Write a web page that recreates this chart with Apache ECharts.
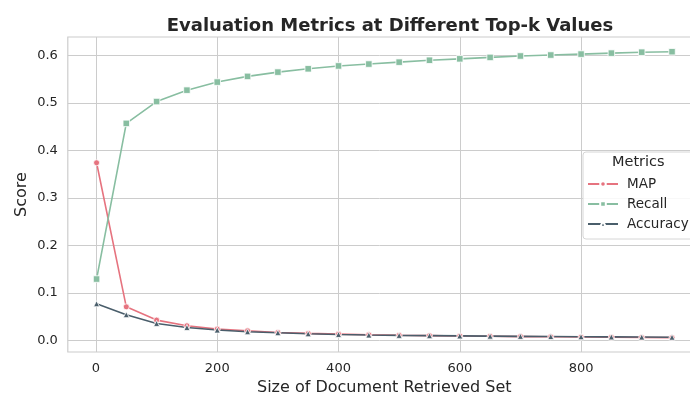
<!DOCTYPE html>
<html>
<head>
<meta charset="utf-8">
<script src="https://cdn.jsdelivr.net/npm/echarts@6/dist/echarts.min.js"></script>
<style>
  html, body { margin: 0; padding: 0; background: #fff; }
  #chart { width: 690px; height: 396px; }
</style>
</head>
<body>
<div id="chart"></div>
<script>
// top-k sizes
const topK = [1, 50, 100, 150, 200, 250, 300, 350, 400, 450, 500, 550, 600, 650, 700, 750, 800, 850, 900, 950]

// metric values
const mapValues = [0.374, 0.0705, 0.0425, 0.0305, 0.0235, 0.020, 0.0165, 0.0145, 0.013, 0.0115,
  0.0105, 0.0098, 0.0090, 0.0085, 0.0078, 0.0073, 0.0068, 0.0063, 0.0058, 0.0055]
const recallValues = [0.129, 0.457, 0.503, 0.527, 0.544, 0.556, 0.565, 0.572, 0.578, 0.582,
  0.586, 0.590, 0.593, 0.596, 0.599, 0.601, 0.603, 0.605, 0.607, 0.608]
const accuracyValues = [0.077, 0.054, 0.0355, 0.027, 0.0215, 0.018, 0.016, 0.0137, 0.0123, 0.011,
  0.0103, 0.0097, 0.0092, 0.0087, 0.0083, 0.0079, 0.0075, 0.0071, 0.0068, 0.0065]

const xTicks = [0, 200, 400, 600, 800]
const yTicks = [0, 0.1, 0.2, 0.3, 0.4, 0.5, 0.6]

const chart = echarts.init(document.getElementById('chart'))

const pairs = (vals) => topK.map((k, i) => [k, vals[i]])

const makeSeries = (name, vals, color, symbol, size) => ({
  name: name,
  type: 'line',
  data: pairs(vals),
  symbol: symbol,
  symbolSize: size,
  showAllSymbol: true,
  lineStyle: { width: 1.6, color: color },
  itemStyle: { color: color, borderColor: '#fff', borderWidth: 0.8 },
  emphasis: { disabled: true },
  animation: false
})

const font = 'DejaVu Sans'

chart.setOption({
  animation: false,
  title: {
    text: 'Evaluation Metrics at Different Top-k Values',
    left: 385,
    top: 12,
    textAlign: 'center',
    textStyle: { fontFamily: font, fontSize: 18, fontWeight: 'bold', color: '#262626' }
  },
  grid: {
    left: 67.8,
    top: 37,
    width: 633,
    height: 315,
    outerBoundsMode: 'none',
    containLabel: false,
    show: true,
    borderColor: '#cccccc',
    borderWidth: 1.2
  },
  xAxis: {
    type: 'value',
    min: -46.45,
    max: 997.45,
    name: 'Size of Document Retrieved Set',
    nameLocation: 'middle',
    nameGap: 27,
    nameTextStyle: { fontFamily: font, fontSize: 16, color: '#262626' },
    axisLine: { show: false },
    axisTick: { show: false, customValues: xTicks },
    axisLabel: { customValues: xTicks, fontFamily: font, fontSize: 13, color: '#262626', margin: 10 },
    splitLine: { show: true, lineStyle: { color: '#cccccc', width: 1 } }
  },
  yAxis: {
    type: 'value',
    min: -0.0247,
    max: 0.639,
    name: 'Score',
    nameLocation: 'middle',
    nameGap: 38,
    nameMoveOverlap: false,
    nameTextStyle: { fontFamily: font, fontSize: 16, color: '#262626' },
    axisLine: { show: false },
    axisTick: { show: false, customValues: yTicks },
    axisLabel: {
      customValues: yTicks,
      fontFamily: font, fontSize: 13, color: '#262626', margin: 10,
      formatter: (v) => v.toFixed(1)
    },
    splitLine: { show: true, lineStyle: { color: '#cccccc', width: 1 } }
  },
  legend: {
    orient: 'vertical',
    left: 583,
    top: 152,
    padding: [25, 12, 8, 4],
    itemWidth: 30,
    itemHeight: 7,
    itemGap: 6,
    backgroundColor: 'rgba(255,255,255,0.85)',
    borderColor: '#d6d6d6',
    borderWidth: 1,
    borderRadius: 3,
    textStyle: { fontFamily: font, fontSize: 13.5, color: '#262626', padding: [0, 0, 0, 4] },
    data: ['MAP', 'Recall', 'Accuracy']
  },
  graphic: [{
    type: 'text',
    left: 612,
    top: 155,
    z: 100,
    style: { text: 'Metrics', fontFamily: font, fontSize: 14.5, fill: '#262626' }
  }],
  series: [
    makeSeries('MAP', mapValues, '#e6737f', 'circle', 6),
    makeSeries('Recall', recallValues, '#88bea1', 'rect', 6.5),
    makeSeries('Accuracy', accuracyValues, '#4a5e6b', 'triangle', 6)
  ]
})
</script>
</body>
</html>
